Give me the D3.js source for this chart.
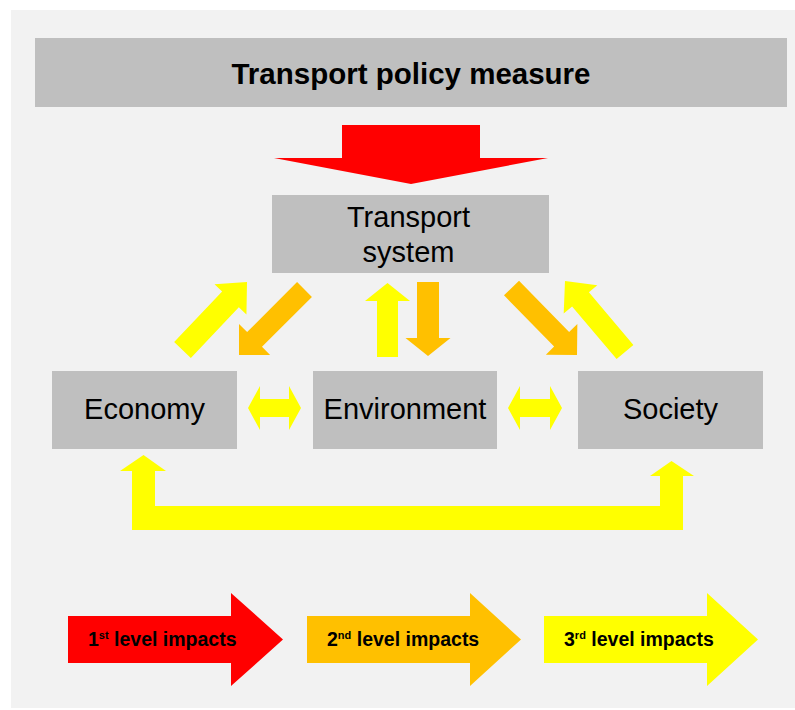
<!DOCTYPE html>
<html>
<head>
<meta charset="utf-8">
<script src="https://cdn.jsdelivr.net/npm/d3@7"></script>
<style>
  html, body { margin: 0; padding: 0; background: #ffffff; }
  svg { display: block; }
  text { font-family: "Liberation Sans", Arial, sans-serif; fill: #000; }
</style>
</head>
<body>
<svg id="chart" width="795" height="710"></svg>
<script>
// ---- data ----
const titleLabel = "Transport policy measure";
const systemLabel = ["Transport", "system"];
const domainLabels = ["Economy", "Environment", "Society"];
const levelNumbers = ["1", "2", "3"];
const levelSuffixes = ["st", "nd", "rd"];
const levelText = " level impacts";
const levelColors = ["#ff0000", "#ffc000", "#ffff00"];
// links: source -> target, impact level (1..3)
const linkSources = ["Economy", "Transport system", "Environment", "Transport system", "Transport system", "Society"];
const linkTargets = ["Transport system", "Economy", "Transport system", "Environment", "Society", "Transport system"];
const linkLevels  = [3, 2, 3, 2, 2, 3];
const mutualPairs = [["Economy", "Environment"], ["Environment", "Society"]];

// ---- layout ----
const svg = d3.select("#chart");
const W = 795, H = 710;
const color = d3.scaleOrdinal().domain([1, 2, 3]).range(levelColors);

// panel
svg.append("rect").attr("x", 11).attr("y", 10).attr("width", W - 11).attr("height", 698).attr("fill", "#f2f2f2");

// top bar
svg.append("rect").attr("x", 35).attr("y", 38).attr("width", 752).attr("height", 69).attr("fill", "#bfbfbf");
svg.append("text").attr("x", 411).attr("y", 84).attr("text-anchor", "middle")
  .style("font-size", "29.5px").style("font-weight", "bold").text(titleLabel);

// arrow polygon generator
function arrowPts(x1, y1, x2, y2, sw, hw, hl) {
  const dx = x2 - x1, dy = y2 - y1, L = Math.hypot(dx, dy);
  const ux = dx / L, uy = dy / L, nx = -uy, ny = ux;
  const p = (a, b) => [x1 + ux * a + nx * b, y1 + uy * a + ny * b];
  const s = L - hl;
  return [p(0, -sw / 2), p(s, -sw / 2), p(s, -hw / 2), p(L, 0), p(s, hw / 2), p(s, sw / 2), p(0, sw / 2)];
}
function doubleArrowPts(x1, y1, x2, y2, sw, hw, hl) {
  const dx = x2 - x1, dy = y2 - y1, L = Math.hypot(dx, dy);
  const ux = dx / L, uy = dy / L, nx = -uy, ny = ux;
  const p = (a, b) => [x1 + ux * a + nx * b, y1 + uy * a + ny * b];
  return [p(0, 0), p(hl, -hw / 2), p(hl, -sw / 2), p(L - hl, -sw / 2), p(L - hl, -hw / 2), p(L, 0),
          p(L - hl, hw / 2), p(L - hl, sw / 2), p(hl, sw / 2), p(hl, hw / 2)];
}
const line = d3.line();

// red policy arrow
svg.append("path").attr("fill", color(1))
  .attr("d", line(arrowPts(411, 125, 411, 184, 138, 274, 26)) + "Z");

// boxes
const boxes = {
  "Transport system": {x: 272, y: 195, w: 277, h: 78},
  "Economy": {x: 52, y: 371, w: 185, h: 78},
  "Environment": {x: 313, y: 371, w: 184, h: 78},
  "Society": {x: 578, y: 371, w: 185, h: 78}
};
Object.entries(boxes).forEach(([k, b]) => {
  svg.append("rect").attr("x", b.x).attr("y", b.y).attr("width", b.w).attr("height", b.h).attr("fill", "#bfbfbf");
});
const ts = boxes["Transport system"];
systemLabel.forEach((t, i) => {
  svg.append("text").attr("x", ts.x + ts.w / 2 - 2).attr("y", 227 + i * 35).attr("text-anchor", "middle")
    .style("font-size", "29px").text(t);
});
domainLabels.forEach(d => {
  const b = boxes[d];
  svg.append("text").attr("x", b.x + b.w / 2).attr("y", 419).attr("text-anchor", "middle")
    .style("font-size", "29px").text(d);
});

// link arrow geometry (tail, tip, shaft width, head width, head length)
const linkGeom = [
  [182.5, 350, 247, 282, 23, 44, 24],
  [304.5, 289.5, 239, 355, 21, 44, 22],
  [387.5, 357, 387.5, 283, 21, 45, 18],
  [428, 282, 428, 356, 22, 45, 18],
  [511.5, 288, 577, 355, 21, 44, 22],
  [625, 352, 565, 281, 22, 44, 24]
];
linkLevels.forEach((lv, i) => {
  const g = linkGeom[i];
  svg.append("path").attr("fill", color(lv)).attr("d", line(arrowPts(...g)) + "Z");
});

// mutual (double) arrows
const mutualGeom = [[248, 408, 301, 408], [508, 408, 562, 408]];
mutualPairs.forEach((p, i) => {
  const g = mutualGeom[i];
  svg.append("path").attr("fill", color(3)).attr("d", line(doubleArrowPts(...g, 18, 44, 12)) + "Z");
});

// Economy <-> Society U arrow
const uPts = [[143.5, 455], [166, 471], [155, 471], [155, 506], [660, 506], [660, 476], [650, 476],
              [671.5, 461], [694, 476], [683, 476], [683, 530], [132, 530], [132, 471], [120, 471]];
svg.append("path").attr("fill", color(3)).attr("d", line(uPts) + "Z");

// legend arrows
const legendBody = [68, 307, 544];
const legendTip = [283, 521, 758];
levelNumbers.forEach((n, i) => {
  const x0 = legendBody[i], xt = legendTip[i];
  svg.append("path").attr("fill", levelColors[i])
    .attr("d", line(arrowPts(x0, 639.5, xt, 639.5, 47, 93, xt - x0 - 163)) + "Z");
  const t = svg.append("text").attr("x", x0 + 20).attr("y", 646)
    .style("font-size", "19.5px").style("font-weight", "bold");
  t.append("tspan").text(n);
  t.append("tspan").attr("dy", -7).style("font-size", "11px").text(levelSuffixes[i]);
  t.append("tspan").attr("dy", 7).text(levelText);
});
</script>
</body>
</html>
